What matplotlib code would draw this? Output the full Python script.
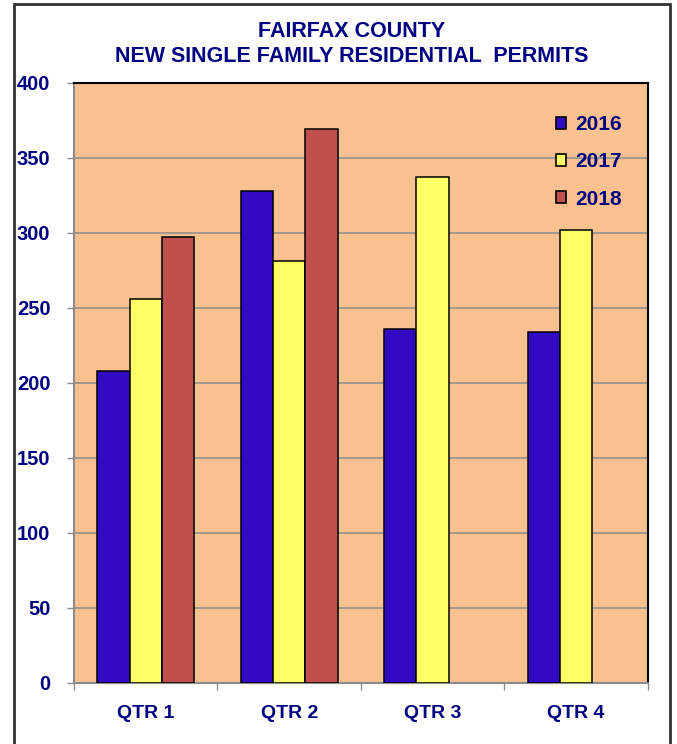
import numpy as np
import matplotlib
matplotlib.use('Agg')
import matplotlib.pyplot as plt
from matplotlib.patches import Rectangle, Patch

# ---------------------- Data ---------------------- #
quarters = ['QTR 1', 'QTR 2', 'QTR 3', 'QTR 4']
years = ['2016', '2017', '2018']
permits_2016 = [208, 328, 236, 234]
permits_2017 = [256, 281, 337, 302]
permits_2018 = [297, 369, np.nan, np.nan]  # no data yet for Q3/Q4

# ---------------------- Style ---------------------- #
NAVY = '#000080'
BAR_COLORS = ['#330AC4', '#FFFF66', '#C0504D']
BG = '#F9C18F'
GRID = '#8C8C8C'
plt.rcParams['font.family'] = ['Liberation Sans', 'DejaVu Sans']
plt.rcParams['font.weight'] = 'bold'

fig = plt.figure(figsize=(6.77, 7.44), dpi=100)
ax = fig.add_axes([74 / 677, 61.3 / 744, 573.7 / 677, 600 / 744])

# outer frame around the whole chart
fig.patches.append(Rectangle((14 / 677, -0.05), 656 / 677, 1.05 - 3.5 / 744,
                             transform=fig.transFigure, fill=False,
                             edgecolor='#333333', linewidth=2))

x = np.arange(len(quarters))
width = 0.225
series = [permits_2016, permits_2017, permits_2018]
for i, vals in enumerate(series):
    ax.bar(x + (i - 1) * width, vals, width, color=BAR_COLORS[i],
           edgecolor='black', linewidth=1.1, zorder=3)

ax.set_facecolor(BG)
ax.set_xlim(-0.5, 3.5)
ax.set_ylim(0, 400)
ax.set_yticks(range(0, 401, 50))
ax.yaxis.grid(True, color=GRID, linewidth=1.1, zorder=1)
ax.set_axisbelow(True)

# category boundaries as major ticks, labels on minor ticks
ax.set_xticks(np.arange(-0.5, 4, 1))
ax.set_xticklabels([])
ax.set_xticks(x, minor=True)
ax.set_xticklabels(quarters, minor=True)
ax.tick_params(axis='x', which='major', length=5, width=1, color=GRID, direction='out')
ax.tick_params(axis='x', which='minor', length=0, pad=16, labelsize=14, labelcolor=NAVY)
ax.tick_params(axis='y', length=5, width=1, color=GRID, direction='out', pad=12,
               labelsize=14.5, labelcolor=NAVY)

for side in ['left', 'bottom']:
    ax.spines[side].set_color(GRID)
    ax.spines[side].set_linewidth(1.5)
for side in ['top', 'right']:
    ax.spines[side].set_color('black')
    ax.spines[side].set_linewidth(1.5)

handles = [Patch(facecolor=c, edgecolor='black', linewidth=1.2) for c in BAR_COLORS]
leg = ax.legend(handles, years, loc='upper left', bbox_to_anchor=(0.84, 0.946),
                frameon=False, handlelength=0.5, handleheight=0.5,
                handletextpad=0.45, labelspacing=0.88, fontsize=15,
                borderpad=0, borderaxespad=0)
for t in leg.get_texts():
    t.set_color(NAVY)

fig.text(352 / 677, 1 - 44 / 744, 'FAIRFAX COUNTY\nNEW SINGLE FAMILY RESIDENTIAL  PERMITS',
         ha='center', va='center', fontsize=15.5, color=NAVY, linespacing=1.3)

fig.savefig('out.png', dpi=100)
